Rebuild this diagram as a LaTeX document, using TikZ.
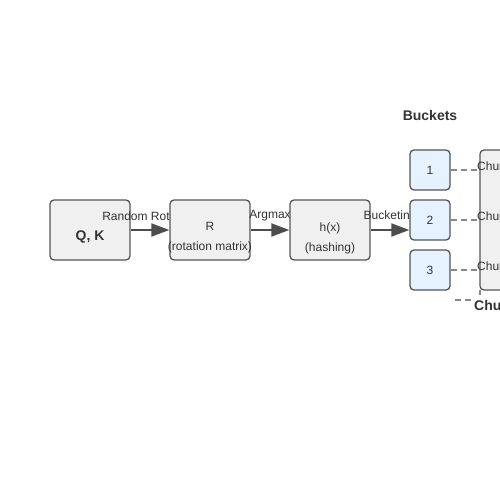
\documentclass[tikz,border=0pt]{standalone}
\usepackage{fontspec}
\setmainfont{Liberation Sans}
\usetikzlibrary{arrows.meta,backgrounds}
\definecolor{boxfill}{HTML}{F0F0F0}
\definecolor{boxline}{HTML}{555555}
\definecolor{bucketfill}{HTML}{E6F2FF}
\definecolor{txt}{HTML}{333333}
\definecolor{arr}{HTML}{4D4D4D}
\definecolor{dash}{HTML}{888888}
\tikzset{
  x=1pt,y=-1pt,
  procbox/.style={draw=boxline,fill=boxfill,line width=1.3pt,rounded corners=4pt,
    minimum width=80pt,minimum height=60pt,inner sep=0pt},
  boxtext/.style={text=txt,font=\fontsize{12}{20}\selectfont,align=center,inner sep=0pt},
  bucketbox/.style={draw=boxline,fill=bucketfill,line width=1.3pt,rounded corners=4pt,
    minimum width=40pt,minimum height=40pt,inner sep=0pt,text=txt,font=\fontsize{12}{14}\selectfont},
  chunkbox/.style={draw=boxline,fill=boxfill,line width=1.3pt,rounded corners=4pt,
    minimum width=80pt,minimum height=140pt,inner sep=0pt},
  flow/.style={draw=arr,line width=2pt,-{Triangle[length=18pt,width=13pt]}},
  flowlabel/.style={text=txt,font=\fontsize{12}{14}\selectfont,inner sep=0pt},
  dashlink/.style={draw=dash,line width=1.6pt,dash pattern=on 6pt off 4pt},
  title/.style={text=txt,font=\bfseries\fontsize{14}{16}\selectfont,inner sep=0pt},
  chunklabel/.style={text=txt,font=\fontsize{12}{14}\selectfont,inner sep=0pt,anchor=west},
}
\begin{document}
\begin{tikzpicture}
\useasboundingbox (0,0) rectangle (500,500);
\clip (0,0) rectangle (500,500);
\node[procbox] (qk) at (90,230) {};
\node[boxtext,font=\bfseries\fontsize{14}{16}\selectfont] (qkt) at (90,237) {Q, K};
\node[flowlabel] (l1) at (149,216) {Random Rotation};
\node[procbox] (r) at (210,230) {};
\node[boxtext] (rt) at (210,238) {R\\(rotation matrix)};
\node[flowlabel] (l2) at (270,216) {Argmax};
\node[procbox] (h) at (330,230) {};
\node[boxtext] (ht) at (330,238) {h(x)\\(hashing)};
\node[flowlabel] (l3) at (390,216) {Bucketing};
\node[bucketbox] (b1) at (430,170) {1};
\node[bucketbox] (b2) at (430,220) {2};
\node[bucketbox] (b3) at (430,270) {3};
\node[title] (bt) at (430,115) {Buckets};
\node[chunkbox] (ch) at (520,220) {};
\node[chunklabel] (c1) at (477,166) {Chunk 1};
\node[chunklabel] (c2) at (477,216) {Chunk 2};
\node[chunklabel] (c3) at (477,266) {Chunk 3};
\node[title,fill=white,anchor=west,inner sep=1pt] (ct) at (473,305) {Chunks};
\coordinate (cs) at (455,300);
\coordinate (cb) at (480,290);
\begin{scope}[on background layer]
\draw[flow] (qk) -- (r);
\draw[flow] (r) -- (h);
\draw[flow] (h.east) -- (b2.west |- h.east);
\draw[dashlink] (b1.east) -- (ch.west |- b1.east);
\draw[dashlink] (b2.east) -- (ch.west |- b2.east);
\draw[dashlink] (b3.east) -- (ch.west |- b3.east);
\draw[dashlink] (cs) -- (cs -| cb) -- (cb);
\end{scope}
\end{tikzpicture}
\end{document}
